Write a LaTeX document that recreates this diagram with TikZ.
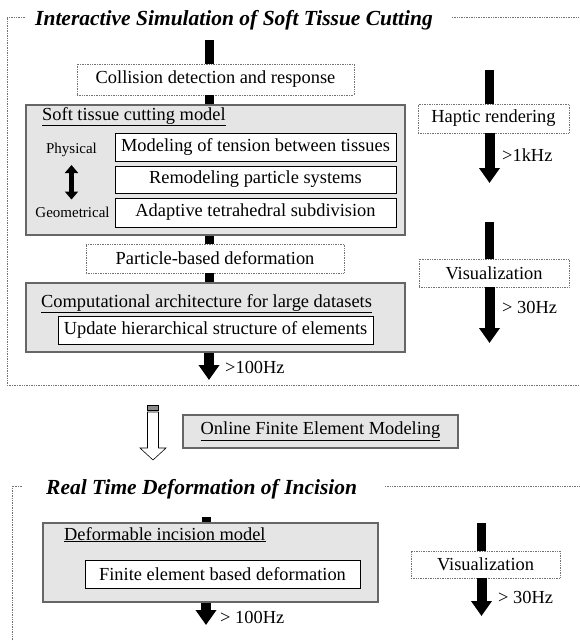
\documentclass[tikz,border=0pt]{standalone}
\usepackage{fontspec}
\setmainfont{Liberation Serif}
\usetikzlibrary{arrows.meta}

\tikzset{
  txt/.style={font=\fontsize{18.4}{20}\selectfont},
  frame/.style={densely dotted, black!55, line width=0.7pt},
  titletxt/.style={anchor=base west, inner sep=0pt, font=\fontsize{21.5}{24}\selectfont\bfseries\itshape},
  dotbox/.style={txt, draw=black!55, densely dotted, fill=white, line width=0.7pt, inner sep=0pt},
  graybox/.style={draw=black!60, fill=black!10, line width=1.5pt, inner sep=0pt},
  whitebox/.style={txt, draw=black, fill=white, line width=0.8pt, inner sep=0pt},
  heading/.style={txt, anchor=base west, inner sep=0pt},
  bar/.style={line width=9pt},
  flow/.style={line width=10pt, -{Triangle[length=15pt,width=20pt]}},
  rate/.style={txt, anchor=west, inner sep=0pt},
}

\begin{document}
\begin{tikzpicture}[x=1pt,y=-1pt]
  \useasboundingbox (0,0) rectangle (580,641);

  % upper frame
  \node[titletxt] (title1) at (35,25) {Interactive Simulation of Soft Tissue Cutting};
  \draw[frame] (25,17) -- (7,17) -- (7,385) -- (580,385);
  \draw[frame] (452,17) -- (580,17);

  \node[dotbox, minimum width=277pt, minimum height=31pt] (coll) at (215.5,79.5) {Collision detection and response};
  \node[graybox, minimum width=379pt, minimum height=130pt] (cut) at (215.5,170) {};
  \node[heading] (cuttitle) at (42,120) {\underline{Soft tissue cutting model}};
  \node[whitebox, minimum width=281pt, minimum height=28pt] (tension) at (255.5,147) {Modeling of tension between tissues};
  \node[whitebox, minimum width=281pt, minimum height=27pt] (remodel) at (255.5,179.5) {Remodeling particle systems};
  \node[whitebox, minimum width=281pt, minimum height=29pt] (tetra) at (255.5,212.5) {Adaptive tetrahedral subdivision};
  \node[inner sep=0pt, font=\fontsize{15}{17}\selectfont] (phys) at (71.5,150) {Physical};
  \node[inner sep=0pt, font=\fontsize{15}{17}\selectfont] (geom) at (72.5,212) {Geometrical};
  \draw[line width=5pt, {Triangle[length=8pt,width=13pt]}-{Triangle[length=8pt,width=13pt]}]
    ([yshift=-8pt]phys.south) -- ([yshift=7pt]phys.south |- geom.north);

  \node[dotbox, minimum width=258pt, minimum height=29pt] (particle) at (215,258.5) {Particle-based deformation};
  \node[graybox, minimum width=379pt, minimum height=69pt] (arch) at (215.5,317.5) {};
  \node[heading] (archtitle) at (41,307) {\underline{Computational architecture for large datasets}};
  \node[whitebox, minimum width=315pt, minimum height=28pt] (update) at (215.5,330) {Update hierarchical structure of elements};

  \coordinate (in1) at (209,40);
  \coordinate (out1) at (209,380);
  \draw[bar] (in1) -- (in1 |- coll.north);
  \draw[bar] (coll.south -| in1) -- (cut.north -| in1);
  \draw[bar] (cut.south -| in1) -- (particle.north -| in1);
  \draw[bar] (particle.south -| in1) -- (arch.north -| in1);
  \draw[flow] (arch.south -| in1) -- (out1);
  \node[rate] (r100a) at (225,367) {>100Hz};

  \node[dotbox, minimum width=151pt, minimum height=29pt] (haptic) at (493.5,118.5) {Haptic rendering};
  \coordinate (hin) at (489.5,70);
  \coordinate (hout) at (489.5,183);
  \draw[bar] (hin) -- (hin |- haptic.north);
  \draw[flow] (haptic.south -| hin) -- (hout);
  \node[rate] (r1k) at (502,155) {>1kHz};

  \node[dotbox, minimum width=150pt, minimum height=28pt] (vis1) at (494,273) {Visualization};
  \coordinate (vin1) at (489.5,222);
  \coordinate (vout1) at (489.5,343);
  \draw[bar] (vin1) -- (vin1 |- vis1.north);
  \draw[flow] (vis1.south -| vin1) -- (vout1);
  \node[rate] (r30a) at (502,307) {> 30Hz};

  % open arrow between the frames
  \draw[fill=black!45, line width=0.6pt] (147.5,405) rectangle (158.5,410);
  \draw[fill=white, line width=0.6pt] (147.5,412) -- (147.5,448) -- (140,448) -- (153,460)
    -- (166,448) -- (158.5,448) -- (158.5,412) -- cycle;
  \node[graybox, txt, minimum width=275pt, minimum height=33pt] (fem) at (320.5,431.5) {\underline{Online Finite Element Modeling}};

  % lower frame
  \node[titletxt] (title2) at (46,494) {Real Time Deformation of Incision};
  \draw[frame] (22,486) -- (12,486) -- (12,641);
  \draw[frame] (385,486) -- (580,486);

  \node[graybox, minimum width=335pt, minimum height=79pt] (incision) at (210.5,562.5) {};
  \node[heading] (inctitle) at (64,540) {\underline{Deformable incision model}};
  \node[whitebox, minimum width=275pt, minimum height=28pt] (fe) at (222.5,574) {Finite element based deformation};
  \coordinate (in2) at (206,517);
  \coordinate (out2) at (206,625);
  \draw[bar] (in2) -- (in2 |- incision.north);
  \draw[flow] (incision.south -| in2) -- (out2);
  \node[rate] (r100b) at (220,617) {> 100Hz};

  \node[dotbox, minimum width=149pt, minimum height=27pt] (vis2) at (485.5,564.5) {Visualization};
  \coordinate (vin2) at (481.5,523);
  \coordinate (vout2) at (481.5,616);
  \draw[bar] (vin2) -- (vin2 |- vis2.north);
  \draw[flow] (vis2.south -| vin2) -- (vout2);
  \node[rate] (r30b) at (498,597) {> 30Hz};
\end{tikzpicture}
\end{document}
